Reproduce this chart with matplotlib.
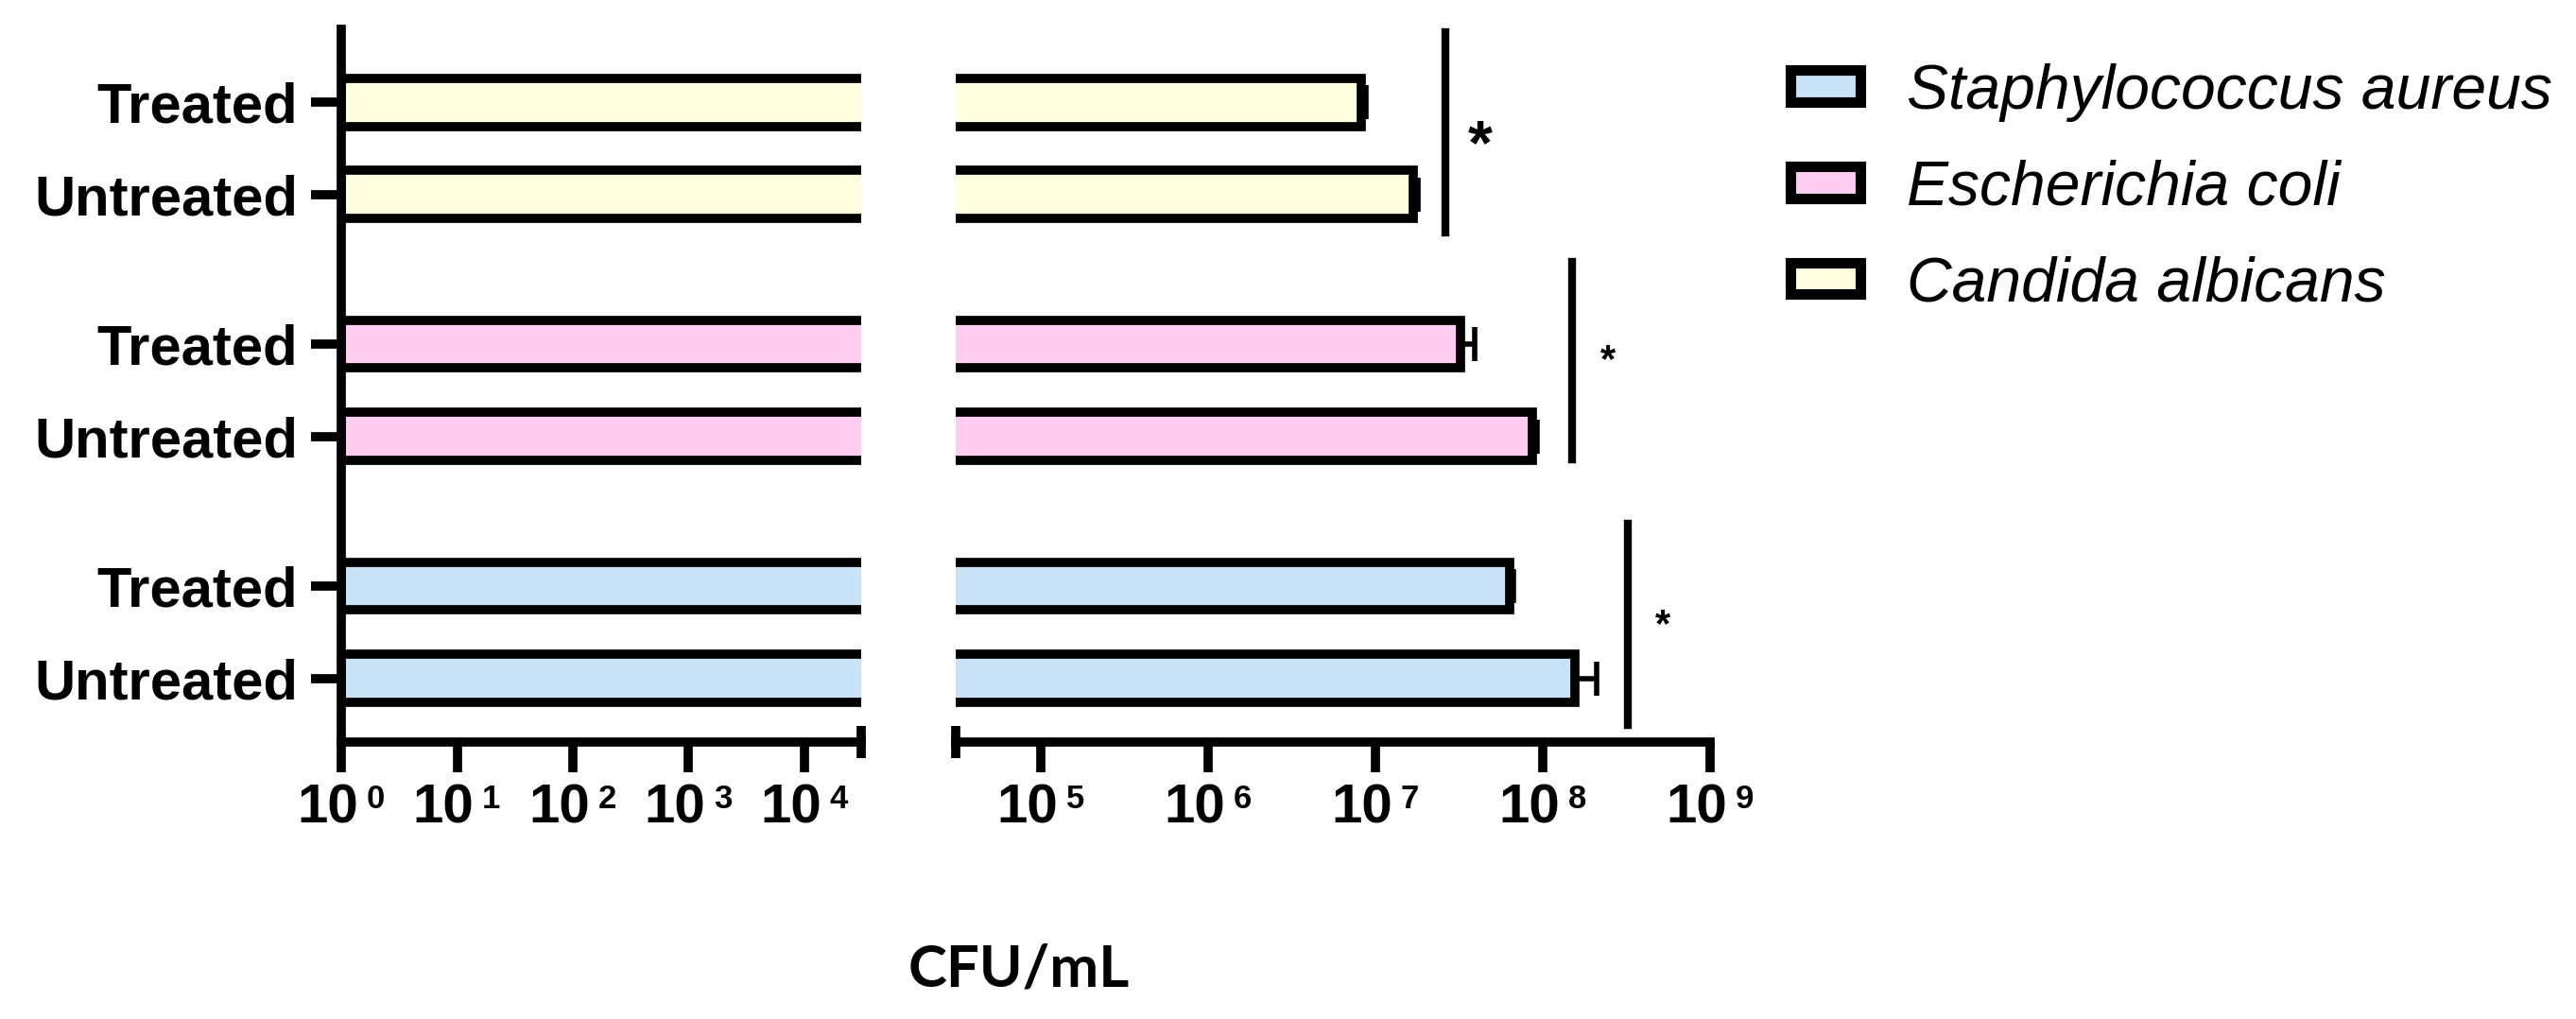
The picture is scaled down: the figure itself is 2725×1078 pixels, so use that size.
import matplotlib
matplotlib.use("Agg")
import matplotlib.pyplot as plt
import numpy as np
from matplotlib.patches import Patch
from matplotlib.ticker import FixedLocator, NullFormatter, NullLocator

plt.rcParams["font.family"] = ["Liberation Sans", "DejaVu Sans"]

# data (CFU/mL)
organisms = ["Staphylococcus aureus", "Escherichia coli", "Candida albicans"]
conditions = ["Untreated", "Treated"]
colors = ["#c8e2f7", "#ffcdf1", "#ffffe0"]
untreated = [1.55e8, 8.6e7, 1.68e7]
treated = [6.3e7, 3.2e7, 8.2e6]
untreated_err = [5.5e7, 6e6, 1.2e6]
treated_err = [4e6, 7e6, 6e5]

# significance brackets: x, y-span, star position, star size
sig_x = [3.2e8, 1.5e8, 2.6e7]
sig_y = [(-0.51, 1.68), (2.37, 4.51), (4.83, 7.0)]
star_x = [5.2e8, 2.45e8, 4.2e7]
star_y = [0.57, 3.44, 5.75]
star_size = [30, 30, 48]

left_ticks = [1e0, 1e1, 1e2, 1e3, 1e4]
right_ticks = [1e5, 1e6, 1e7, 1e8, 1e9]

BREAK = 10 ** 4.49
GROUP_STEP = 2.62
LW = 7


def power_labels(ax, ticks):
    # "10" and exponent drawn as two texts, like the original GraphPad labels
    for t in ticks:
        e = int(round(np.log10(t)))
        ax.annotate("10", xy=(t, 0), xycoords=ax.get_xaxis_transform(),
                    xytext=(13, -31), textcoords="offset points", ha="right",
                    va="top", fontsize=42, fontweight="bold")
        ax.annotate(str(e), xy=(t, 0), xycoords=ax.get_xaxis_transform(),
                    xytext=(19, -31.5), textcoords="offset points", ha="left",
                    va="top", fontsize=25, fontweight="bold")


fig = plt.figure(figsize=(27.25, 10.78), dpi=100)
ax_l = fig.add_axes([0.1325, 0.2718, 0.2018, 0.6994])
ax_r = fig.add_axes([0.371, 0.2718, 0.2929, 0.6994])

ypos, vals, errs, cols, labels = [], [], [], [], []
for gi in range(len(organisms)):
    for ci, (v, e) in enumerate([(untreated[gi], untreated_err[gi]), (treated[gi], treated_err[gi])]):
        ypos.append(gi * GROUP_STEP + ci)
        vals.append(v)
        errs.append(e)
        cols.append(colors[gi])
        labels.append(conditions[ci])
ypos = np.array(ypos)
vals = np.array(vals)
errs = np.array(errs)

for ax in (ax_l, ax_r):
    ax.set_xscale("log")
    ax.barh(ypos, vals - 1, left=1, height=0.52, color=cols, edgecolor="black",
            linewidth=LW, zorder=2)
    ax.errorbar(vals, ypos, xerr=[np.zeros_like(errs), errs], fmt="none",
                ecolor="black", elinewidth=4, capsize=13, capthick=4, zorder=3)
    ax.set_ylim(-0.69, 7.03)
    ax.spines["top"].set_visible(False)
    ax.spines["right"].set_visible(False)
    ax.spines["bottom"].set_linewidth(LW)
    ax.xaxis.set_major_formatter(NullFormatter())
    ax.xaxis.set_minor_formatter(NullFormatter())
    ax.tick_params(axis="x", which="major", direction="out", length=23, width=LW)
    ax.tick_params(axis="x", which="minor", direction="inout", length=24, width=LW)

ax_l.set_xlim(1, BREAK)
ax_l.xaxis.set_major_locator(FixedLocator(left_ticks))
ax_l.xaxis.set_minor_locator(FixedLocator([BREAK]))
ax_l.spines["left"].set_linewidth(LW)
ax_l.set_yticks(ypos)
ax_l.set_yticklabels(labels, fontsize=43, fontweight="bold")
ax_l.tick_params(axis="y", direction="out", length=23, width=LW, pad=10)
ax_l.yaxis.set_minor_locator(NullLocator())
power_labels(ax_l, left_ticks)

ax_r.set_xlim(BREAK, 1e9)
ax_r.xaxis.set_major_locator(FixedLocator(right_ticks))
ax_r.xaxis.set_minor_locator(FixedLocator([BREAK]))
ax_r.spines["left"].set_visible(False)
ax_r.set_yticks([])
power_labels(ax_r, right_ticks)

for x, (y0, y1), sx, sy, ss in zip(sig_x, sig_y, star_x, star_y, star_size):
    ax_r.plot([x, x], [y0, y1], color="black", linewidth=6, clip_on=False)
    ax_r.text(sx, sy, "*", fontsize=ss, fontweight="bold", ha="center", va="center",
              clip_on=False)

fig.text(1078 / 2725, 1 - 1025 / 1078, "CFU/mL", fontsize=44.5, fontweight="bold",
         family=["Lato", "DejaVu Sans"], ha="center", va="center")

handles = [Patch(facecolor=c, edgecolor="black", linewidth=8) for c in colors]
fig.legend(handles, organisms, loc="upper left", bbox_to_anchor=(0.695, 0.938),
           frameon=False, borderpad=0, borderaxespad=0, handlelength=1.12,
           handleheight=0.41, handletextpad=0.75, labelspacing=0.6,
           prop={"family": "Liberation Sans", "style": "italic", "size": 47.5})

fig.savefig("out.png", dpi=100)
